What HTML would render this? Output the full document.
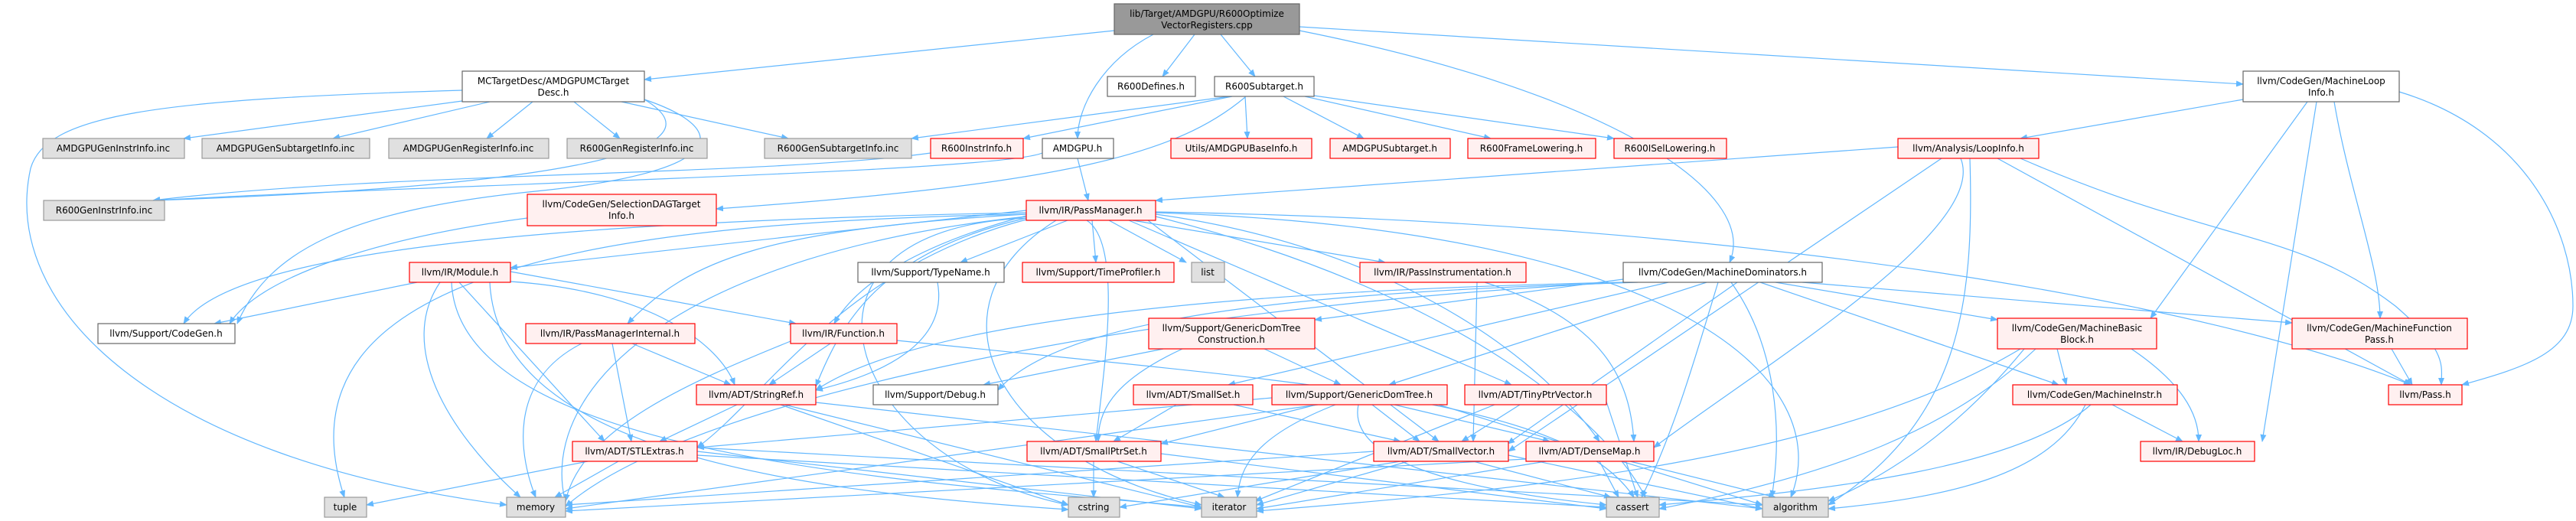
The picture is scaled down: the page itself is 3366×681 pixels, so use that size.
<!DOCTYPE html>
<html><head><meta charset="utf-8"><style>
html,body{margin:0;padding:0;background:#fff;}
svg{display:block;}
text{font-family:"DejaVu Sans",sans-serif;font-size:12px;fill:#000;text-anchor:middle;}
.e{fill:none;stroke:#63b8ff;stroke-width:1.2;marker-end:url(#a);}
.r{fill:#fff0f0;stroke:#ff0000;stroke-width:1.2;}
.w{fill:#fff;stroke:#666;stroke-width:1.2;}
.g{fill:#e0e0e0;stroke:#999;stroke-width:1.2;}
.m{fill:#999;stroke:#666;stroke-width:1.2;}
</style></head><body>
<svg width="3366" height="681" viewBox="0 0 3366 681" xmlns="http://www.w3.org/2000/svg">
<defs><marker id="a" markerWidth="10" markerHeight="8" refX="9" refY="4" orient="auto" markerUnits="userSpaceOnUse"><path d="M0,0 L10,4 L0,8 z" fill="#63b8ff"/></marker></defs>
<g>
<path class="e" d="M1456,40 L842,104"/>
<path class="e" d="M1561,45 L1519,100"/>
<path class="e" d="M1595,45 L1640,100"/>
<path class="e" d="M1507,45 C1440,80 1408,140 1408,181"/>
<path class="e" d="M1698,35 L2931,110"/>
<path class="e" d="M1698,40 C2100,120 2300,250 2260,343"/>
<path class="e" d="M604,118 C200,130 60,150 40,220 C0,400 200,600 662,660"/>
<path class="e" d="M604,132 L240,181"/>
<path class="e" d="M640,133 L435,181"/>
<path class="e" d="M696,133 L636,181"/>
<path class="e" d="M750,133 L810,181"/>
<path class="e" d="M812,133 L1030,181"/>
<path class="e" d="M842,130 C960,200 700,245 200,262"/>
<path class="e" d="M842,130 C960,170 950,225 700,250 C450,275 350,330 310,423"/>
<path class="e" d="M1607,126 L1191,181"/>
<path class="e" d="M1610,126 L1337,181"/>
<path class="e" d="M1627,126 L1630,181"/>
<path class="e" d="M1677,126 L1782,181"/>
<path class="e" d="M1705,126 L1948,181"/>
<path class="e" d="M1717,125 L2109,181"/>
<path class="e" d="M1627,127 C1540,200 1400,240 936,273"/>
<path class="e" d="M1216,200 C1000,230 500,225 200,262"/>
<path class="e" d="M1362,200 C1300,225 600,240 200,262"/>
<path class="e" d="M1408,207 L1422,262"/>
<path class="e" d="M689,285 C500,310 340,360 300,423"/>
<path class="e" d="M2931,130 L2640,181"/>
<path class="e" d="M3015,133 L2810,416"/>
<path class="e" d="M3027,133 L2956,577"/>
<path class="e" d="M3050,133 C3070,250 3110,350 3110,416"/>
<path class="e" d="M3135,120 C3300,170 3362,300 3362,400 C3362,460 3300,480 3217,503"/>
<path class="e" d="M2480,192 L1510,262"/>
<path class="e" d="M2537,207 L1971,590"/>
<path class="e" d="M2562,207 C2600,300 2300,480 2161,585"/>
<path class="e" d="M2574,207 C2580,400 2560,550 2389,660"/>
<path class="e" d="M2610,207 L3150,503"/>
<path class="e" d="M2640,207 C2900,320 3000,300 3130,400 C3200,460 3190,480 3190,503"/>
<path class="e" d="M1341,275 L667,350"/>
<path class="e" d="M1395,288 L1255,343"/>
<path class="e" d="M1427,288 L1432,343"/>
<path class="e" d="M1449,288 L1550,343"/>
<path class="e" d="M1480,288 L1810,343"/>
<path class="e" d="M1341,280 C1000,300 900,340 820,423"/>
<path class="e" d="M1341,282 C1200,320 1120,370 1090,423"/>
<path class="e" d="M1341,285 C1150,330 1100,420 1066,505"/>
<path class="e" d="M1341,287 C1100,350 1000,520 911,585"/>
<path class="e" d="M1420,288 C1470,320 1440,500 1432,577"/>
<path class="e" d="M1500,288 L1880,577"/>
<path class="e" d="M1510,280 C1800,320 2000,450 2090,577"/>
<path class="e" d="M1475,288 L1975,503"/>
<path class="e" d="M1341,285 C1000,300 1100,600 1396,660"/>
<path class="e" d="M1380,288 C1200,400 1300,600 1570,660"/>
<path class="e" d="M1510,283 C1900,380 2100,550 2150,650"/>
<path class="e" d="M1341,283 C900,330 700,500 739,658"/>
<path class="e" d="M1341,280 C800,290 350,350 450,650"/>
<path class="e" d="M1510,278 C2200,300 2400,500 2340,650"/>
<path class="e" d="M1510,277 C2300,290 2900,400 3150,503"/>
<path class="e" d="M1341,278 C700,290 300,330 240,423"/>
<path class="e" d="M545,369 L280,423"/>
<path class="e" d="M667,355 L1040,423"/>
<path class="e" d="M667,368 C850,380 940,450 960,503"/>
<path class="e" d="M600,369 L790,577"/>
<path class="e" d="M575,369 C520,450 580,560 680,650"/>
<path class="e" d="M590,369 C600,600 1200,630 1570,663"/>
<path class="e" d="M640,369 C650,580 1000,640 1396,666"/>
<path class="e" d="M760,449 C660,500 680,600 700,650"/>
<path class="e" d="M800,449 L825,577"/>
<path class="e" d="M826,449 L955,503"/>
<path class="e" d="M1085,449 L1005,503"/>
<path class="e" d="M1172,445 C1700,500 2050,520 2135,650"/>
<path class="e" d="M1033,446 C900,500 760,560 739,655"/>
<path class="e" d="M963,529 L862,577"/>
<path class="e" d="M1025,529 L1570,663"/>
<path class="e" d="M1066,526 L2303,665"/>
<path class="e" d="M1020,529 L1396,660"/>
<path class="e" d="M768,603 L479,660"/>
<path class="e" d="M808,603 L725,650"/>
<path class="e" d="M911,590 L1570,665"/>
<path class="e" d="M911,595 L2099,663"/>
<path class="e" d="M911,585 L2303,660"/>
<path class="e" d="M2121,365 L1718,418"/>
<path class="e" d="M2140,369 C1800,380 1400,400 1304,510"/>
<path class="e" d="M2180,369 L1605,503"/>
<path class="e" d="M2230,369 L1815,503"/>
<path class="e" d="M2270,369 L1970,580"/>
<path class="e" d="M2300,369 L2690,503"/>
<path class="e" d="M2320,369 L2610,418"/>
<path class="e" d="M2355,369 L2995,422"/>
<path class="e" d="M2245,369 C2220,450 2190,560 2145,650"/>
<path class="e" d="M2262,369 C2320,450 2330,560 2315,650"/>
<path class="e" d="M2121,369 C1600,380 1200,420 1066,510"/>
<path class="e" d="M2121,369 C1500,400 900,520 739,662"/>
<path class="e" d="M1520,456 L1285,503"/>
<path class="e" d="M1545,456 C1450,500 1435,540 1435,577"/>
<path class="e" d="M1652,456 L1752,503"/>
<path class="e" d="M1537,529 L1455,577"/>
<path class="e" d="M1612,529 L1830,577"/>
<path class="e" d="M1720,529 L1517,580"/>
<path class="e" d="M1793,529 L1855,577"/>
<path class="e" d="M1822,529 L2025,577"/>
<path class="e" d="M1662,520 L911,585"/>
<path class="e" d="M1745,529 C1640,570 1620,610 1617,650"/>
<path class="e" d="M1775,529 C1760,600 1900,640 2099,660"/>
<path class="e" d="M1880,529 L2303,660"/>
<path class="e" d="M1722,529 L739,665"/>
<path class="e" d="M1986,529 L1910,577"/>
<path class="e" d="M1953,529 L1640,655"/>
<path class="e" d="M2099,525 L2140,650"/>
<path class="e" d="M1429,603 L1429,650"/>
<path class="e" d="M1460,603 L1600,650"/>
<path class="e" d="M1517,593 L2099,665"/>
<path class="e" d="M1830,603 L1463,663"/>
<path class="e" d="M1840,603 L1642,660"/>
<path class="e" d="M1795,590 L739,660"/>
<path class="e" d="M1925,603 L2105,650"/>
<path class="e" d="M1971,595 L2303,665"/>
<path class="e" d="M2090,603 L2115,650"/>
<path class="e" d="M2020,603 L1642,665"/>
<path class="e" d="M2130,603 L2320,650"/>
<path class="e" d="M1994,600 L739,668"/>
<path class="e" d="M2688,456 L2700,503"/>
<path class="e" d="M2785,456 C2850,500 2873,540 2873,577"/>
<path class="e" d="M2660,456 C2550,560 2400,620 2168,665"/>
<path class="e" d="M2645,456 C2560,560 2470,620 2389,655"/>
<path class="e" d="M2640,456 C2400,600 2000,640 1642,668"/>
<path class="e" d="M2760,529 L2852,577"/>
<path class="e" d="M2725,529 C2680,620 2550,650 2389,665"/>
<path class="e" d="M2732,529 C2640,610 2400,640 2168,660"/>
<path class="e" d="M3125,456 L3152,503"/>
<path class="e" d="M1930,369 L1925,577"/>
<path class="e" d="M1940,369 C2100,420 2130,500 2135,577"/>
<path class="e" d="M1225,369 C1240,450 1150,490 1066,510"/>
</g>
<g>
<rect class="m" x="1456" y="5" width="242" height="40"/><text x="1577" y="22">lib/Target/AMDGPU/R600Optimize</text><text x="1577" y="37">VectorRegisters.cpp</text>
<rect class="w" x="604" y="93" width="238" height="40"/><text x="723" y="110">MCTargetDesc/AMDGPUMCTarget</text><text x="723" y="125">Desc.h</text>
<rect class="w" x="1447" y="100" width="115" height="26"/><text x="1504" y="117">R600Defines.h</text>
<rect class="w" x="1587" y="100" width="130" height="26"/><text x="1652" y="117">R600Subtarget.h</text>
<rect class="g" x="56" y="181" width="185" height="26"/><text x="148" y="198">AMDGPUGenInstrInfo.inc</text>
<rect class="g" x="264" y="181" width="219" height="26"/><text x="373" y="198">AMDGPUGenSubtargetInfo.inc</text>
<rect class="g" x="508" y="181" width="209" height="26"/><text x="612" y="198">AMDGPUGenRegisterInfo.inc</text>
<rect class="g" x="741" y="181" width="183" height="26"/><text x="832" y="198">R600GenRegisterInfo.inc</text>
<rect class="g" x="999" y="181" width="192" height="26"/><text x="1095" y="198">R600GenSubtargetInfo.inc</text>
<rect class="r" x="1216" y="181" width="121" height="26"/><text x="1276" y="198">R600InstrInfo.h</text>
<rect class="w" x="1362" y="181" width="93" height="26"/><text x="1408" y="198">AMDGPU.h</text>
<rect class="r" x="1530" y="181" width="184" height="26"/><text x="1622" y="198">Utils/AMDGPUBaseInfo.h</text>
<rect class="r" x="1738" y="181" width="157" height="26"/><text x="1816" y="198">AMDGPUSubtarget.h</text>
<rect class="r" x="1918" y="181" width="167" height="26"/><text x="2001" y="198">R600FrameLowering.h</text>
<rect class="r" x="2109" y="181" width="147" height="26"/><text x="2182" y="198">R600ISelLowering.h</text>
<rect class="r" x="2480" y="181" width="184" height="26"/><text x="2572" y="198">llvm/Analysis/LoopInfo.h</text>
<rect class="w" x="2931" y="93" width="204" height="40"/><text x="3033" y="110">llvm/CodeGen/MachineLoop</text><text x="3033" y="125">Info.h</text>
<rect class="g" x="57" y="262" width="158" height="26"/><text x="136" y="279">R600GenInstrInfo.inc</text>
<rect class="r" x="689" y="254" width="247" height="41"/><text x="812" y="271">llvm/CodeGen/SelectionDAGTarget</text><text x="812" y="286">Info.h</text>
<rect class="r" x="1341" y="262" width="169" height="26"/><text x="1425" y="279">llvm/IR/PassManager.h</text>
<rect class="r" x="535" y="343" width="132" height="26"/><text x="601" y="360">llvm/IR/Module.h</text>
<rect class="w" x="1121" y="343" width="191" height="26"/><text x="1216" y="360">llvm/Support/TypeName.h</text>
<rect class="r" x="1336" y="343" width="198" height="26"/><text x="1435" y="360">llvm/Support/TimeProfiler.h</text>
<rect class="g" x="1557" y="343" width="43" height="26"/><text x="1578" y="360">list</text>
<rect class="r" x="1777" y="343" width="217" height="26"/><text x="1885" y="360">llvm/IR/PassInstrumentation.h</text>
<rect class="w" x="2121" y="343" width="260" height="26"/><text x="2251" y="360">llvm/CodeGen/MachineDominators.h</text>
<rect class="w" x="128" y="423" width="179" height="26"/><text x="217" y="440">llvm/Support/CodeGen.h</text>
<rect class="r" x="687" y="423" width="221" height="26"/><text x="797" y="440">llvm/IR/PassManagerInternal.h</text>
<rect class="r" x="1033" y="423" width="139" height="26"/><text x="1102" y="440">llvm/IR/Function.h</text>
<rect class="r" x="1501" y="416" width="217" height="40"/><text x="1609" y="433">llvm/Support/GenericDomTree</text><text x="1609" y="448">Construction.h</text>
<rect class="r" x="2610" y="416" width="208" height="40"/><text x="2714" y="433">llvm/CodeGen/MachineBasic</text><text x="2714" y="448">Block.h</text>
<rect class="r" x="2995" y="416" width="229" height="40"/><text x="3109" y="433">llvm/CodeGen/MachineFunction</text><text x="3109" y="448">Pass.h</text>
<rect class="r" x="910" y="503" width="156" height="26"/><text x="988" y="520">llvm/ADT/StringRef.h</text>
<rect class="w" x="1141" y="503" width="163" height="26"/><text x="1222" y="520">llvm/Support/Debug.h</text>
<rect class="r" x="1481" y="503" width="156" height="26"/><text x="1559" y="520">llvm/ADT/SmallSet.h</text>
<rect class="r" x="1662" y="503" width="229" height="26"/><text x="1776" y="520">llvm/Support/GenericDomTree.h</text>
<rect class="r" x="1914" y="503" width="185" height="26"/><text x="2006" y="520">llvm/ADT/TinyPtrVector.h</text>
<rect class="r" x="2630" y="503" width="215" height="26"/><text x="2737" y="520">llvm/CodeGen/MachineInstr.h</text>
<rect class="r" x="3121" y="503" width="96" height="26"/><text x="3169" y="520">llvm/Pass.h</text>
<rect class="r" x="748" y="577" width="163" height="26"/><text x="829" y="594">llvm/ADT/STLExtras.h</text>
<rect class="r" x="1342" y="577" width="175" height="26"/><text x="1429" y="594">llvm/ADT/SmallPtrSet.h</text>
<rect class="r" x="1795" y="577" width="176" height="26"/><text x="1883" y="594">llvm/ADT/SmallVector.h</text>
<rect class="r" x="1994" y="577" width="167" height="26"/><text x="2077" y="594">llvm/ADT/DenseMap.h</text>
<rect class="r" x="2797" y="577" width="149" height="26"/><text x="2871" y="594">llvm/IR/DebugLoc.h</text>
<rect class="g" x="424" y="650" width="55" height="26"/><text x="451" y="667">tuple</text>
<rect class="g" x="662" y="650" width="77" height="26"/><text x="700" y="667">memory</text>
<rect class="g" x="1396" y="650" width="67" height="26"/><text x="1429" y="667">cstring</text>
<rect class="g" x="1570" y="650" width="72" height="26"/><text x="1606" y="667">iterator</text>
<rect class="g" x="2099" y="650" width="69" height="26"/><text x="2133" y="667">cassert</text>
<rect class="g" x="2303" y="650" width="86" height="26"/><text x="2346" y="667">algorithm</text>
</g>
</svg>
</body></html>
